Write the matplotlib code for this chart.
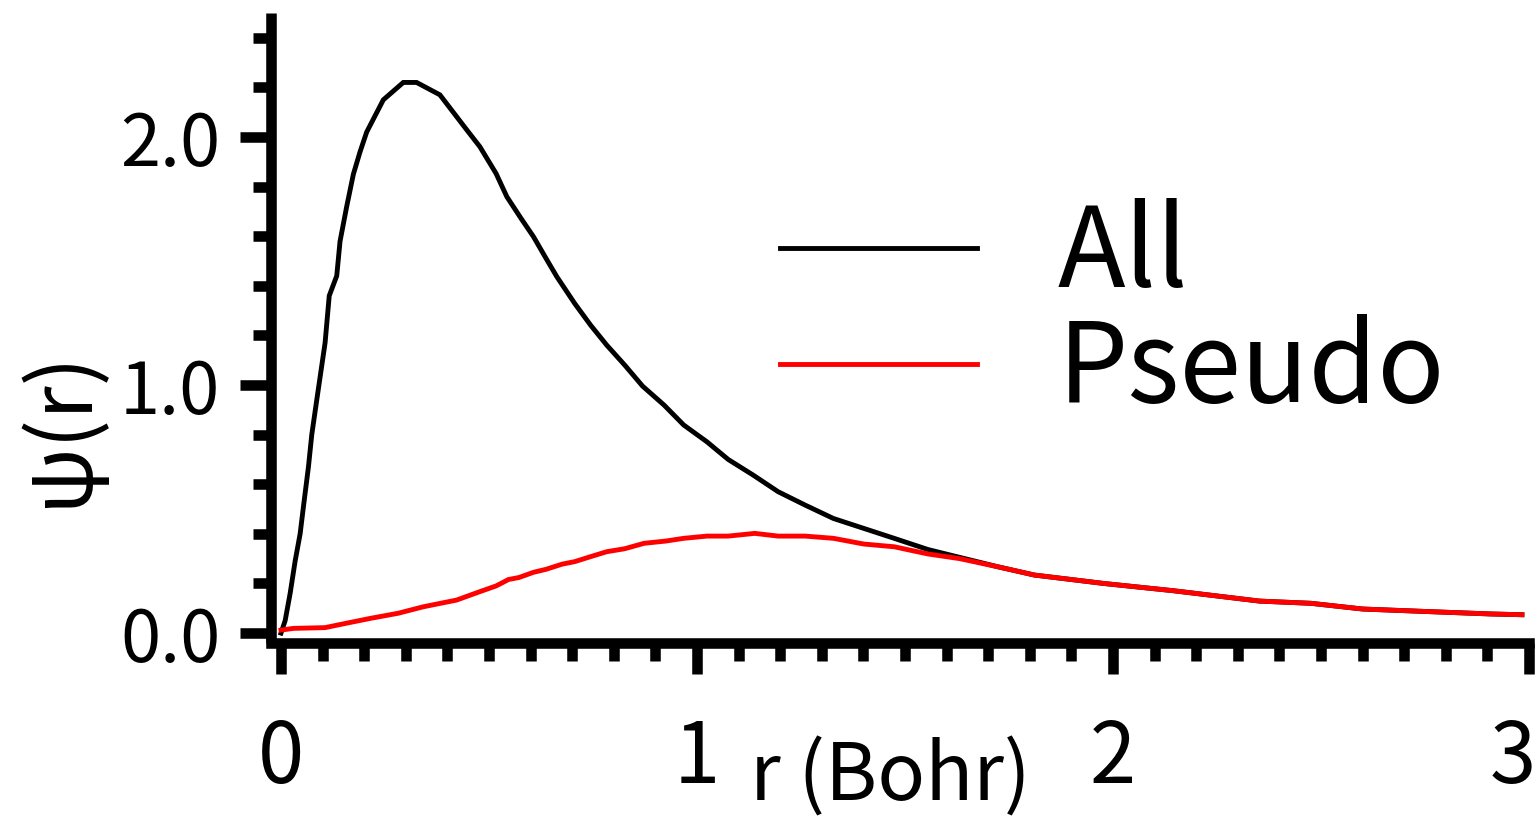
import matplotlib
matplotlib.use("Agg")
import matplotlib.pyplot as plt
import matplotlib.transforms as mtransforms
from matplotlib.ticker import MultipleLocator, FixedLocator, FixedFormatter

plt.rcParams['font.family'] = ['Noto Sans CJK JP', 'DejaVu Sans']

# ---- data ----
r_all = [0.0, 0.01, 0.022, 0.034, 0.046, 0.054, 0.066, 0.074, 0.086, 0.106, 0.116,
         0.134, 0.142, 0.158, 0.174, 0.19, 0.206, 0.246, 0.294, 0.326, 0.382, 0.446,
         0.478, 0.517, 0.543, 0.577, 0.607, 0.637, 0.663, 0.706, 0.744, 0.783, 0.826,
         0.869, 0.921, 0.968, 1.024, 1.075, 1.135, 1.195, 1.26, 1.328, 1.401, 1.474,
         1.555, 1.632, 1.724, 1.811, 1.978, 2.144, 2.352, 2.476, 2.6, 2.768, 2.909, 2.983]
psi_all = [0.0, 0.05, 0.16, 0.29, 0.40, 0.51, 0.67, 0.80, 0.94, 1.17, 1.36,
           1.44, 1.58, 1.72, 1.85, 1.94, 2.02, 2.15, 2.22, 2.22, 2.17, 2.03,
           1.961, 1.853, 1.759, 1.672, 1.598, 1.511, 1.437, 1.329, 1.242, 1.161, 1.081,
           0.996, 0.919, 0.839, 0.771, 0.70, 0.637, 0.57, 0.516, 0.462, 0.422, 0.382,
           0.337, 0.305, 0.267, 0.234, 0.20, 0.171, 0.129, 0.12, 0.097, 0.086, 0.077, 0.074]

r_pseudo = [0.0, 0.03, 0.106, 0.158, 0.214, 0.282, 0.342, 0.422, 0.478, 0.517, 0.547,
            0.572, 0.607, 0.637, 0.676, 0.706, 0.744, 0.783, 0.826, 0.873, 0.925, 0.968,
            1.024, 1.075, 1.139, 1.195, 1.26, 1.328, 1.401, 1.474, 1.555, 1.632, 1.724,
            1.811, 1.978, 2.144, 2.352, 2.476, 2.6, 2.768, 2.909, 2.983]
psi_pseudo = [0.012, 0.019, 0.022, 0.04, 0.059, 0.08, 0.106, 0.133, 0.167, 0.19, 0.216,
              0.224, 0.245, 0.257, 0.278, 0.288, 0.308, 0.328, 0.34, 0.362, 0.371, 0.382,
              0.391, 0.391, 0.402, 0.391, 0.391, 0.382, 0.359, 0.348, 0.319, 0.30, 0.267,
              0.234, 0.20, 0.171, 0.129, 0.12, 0.097, 0.086, 0.077, 0.074]

series_labels = ["All", "Pseudo"]
series_colors = ["black", "#ff0000"]

x_major = [0, 1, 2, 3]
x_major_labels = ["0", "1", "2", "3"]
y_major = [0.0, 1.0, 2.0]
y_major_labels = ["0.0", "1.0", "2.0"]

xlabel = "r (Bohr)"
ylabel = "ψ(r)"

# ---- figure ----
W, H = 1540, 827
fig = plt.figure(figsize=(W / 100, H / 100), dpi=100)
ax = fig.add_axes([271 / W, (H - 643) / H, (1529 - 271) / W, (643 - 13) / H])

ax.plot(r_all, psi_all, color=series_colors[0], lw=3.5, label=series_labels[0],
        solid_joinstyle='miter')
ax.plot(r_pseudo, psi_pseudo, color=series_colors[1], lw=3.5, label=series_labels[1],
        solid_joinstyle='miter')

ax.set_xlim(-0.024, 3.0)
ax.set_ylim(-0.04, 2.5)

for s in ['top', 'right']:
    ax.spines[s].set_visible(False)
for s in ['left', 'bottom']:
    ax.spines[s].set_linewidth(7.6)
ax.spines['left'].set_capstyle('butt')
ax.spines['bottom'].set_capstyle('projecting')

ax.xaxis.set_major_locator(FixedLocator(x_major))
ax.xaxis.set_major_formatter(FixedFormatter(x_major_labels))
ax.xaxis.set_minor_locator(MultipleLocator(0.1))
ax.yaxis.set_major_locator(FixedLocator(y_major))
ax.yaxis.set_major_formatter(FixedFormatter(y_major_labels))
ax.yaxis.set_minor_locator(MultipleLocator(0.2))

ax.tick_params(which='major', direction='out', length=22.5, width=7.6)
ax.tick_params(which='minor', direction='out', length=13, width=7.6)
ax.tick_params(axis='y', which='major', labelsize=52, pad=14)
ax.tick_params(axis='x', which='major', labelsize=60, pad=30)

# keep the last x tick label inside the canvas
last = ax.xaxis.get_major_ticks()[-1].label1
last.set_transform(last.get_transform() +
                   mtransforms.ScaledTranslation(-16 / 100, 0, fig.dpi_scale_trans))

ax.set_xlabel(xlabel, fontsize=57)
ax.xaxis.set_label_coords(0.492, -0.150)
ax.set_ylabel(ylabel, fontsize=62)
ax.yaxis.set_label_coords(-0.130, 0.34)

leg = ax.legend(loc='upper left', bbox_to_anchor=(0.4046, 0.706), frameon=False,
                fontsize=80, handlelength=1.77, handletextpad=0.73,
                labelspacing=0.015, borderpad=0, borderaxespad=0)
for line in leg.get_lines():
    line.set_linewidth(3.5)

fig.savefig("out.png", dpi=100)
